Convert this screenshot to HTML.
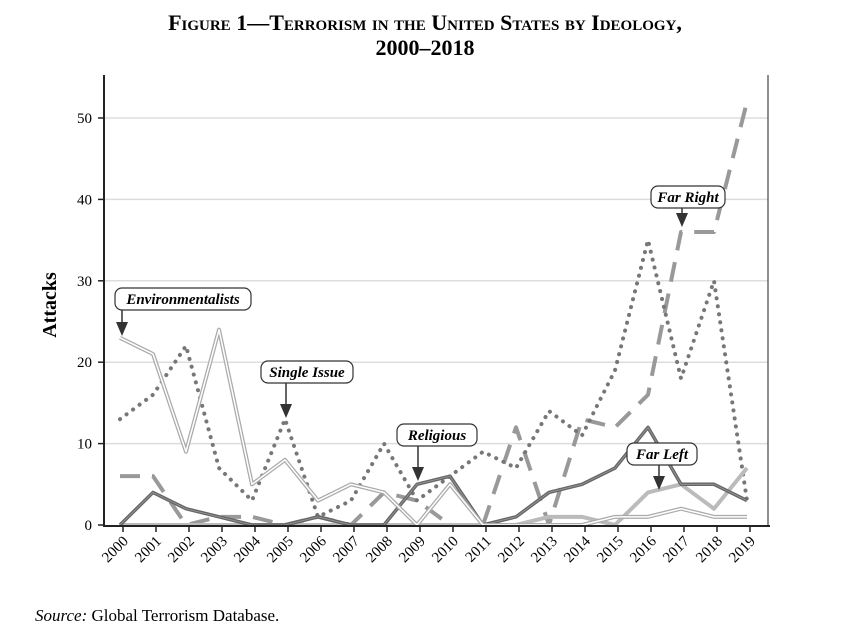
<!DOCTYPE html>
<html><head><meta charset="utf-8"><style>
body{margin:0;background:#fff;width:851px;height:635px;overflow:hidden;font-family:"Liberation Serif",serif}
</style></head><body>
<svg width="851" height="635" xmlns="http://www.w3.org/2000/svg">
<text x="425" y="30" text-anchor="middle" font-family="Liberation Serif" font-weight="bold" font-size="22" font-variant="small-caps">Figure 1—Terrorism in the United States by Ideology,</text>
<text x="425" y="55" text-anchor="middle" font-family="Liberation Serif" font-weight="bold" font-size="22">2000–2018</text>
<text transform="translate(56,305) rotate(-90)" text-anchor="middle" font-family="Liberation Serif" font-weight="bold" font-size="20">Attacks</text>
<g id="grid"></g><g id="series"></g><g id="axes"></g><g id="ann"></g>
<text x="35" y="621" font-family="Liberation Serif" font-size="17"><tspan font-style="italic">Source:</tspan> Global Terrorism Database.</text>
</svg>
<script>
const years=[2000,2001,2002,2003,2004,2005,2006,2007,2008,2009,2010,2011,2012,2013,2014,2015,2016,2017,2018,2019];
const yTicks=[0,10,20,30,40,50];
const environmentalists=[23,21,9,24,5,8,3,5,4,0,5,0,0,0,0,1,1,2,1,1];
const religious=[0,4,2,1,0,0,1,0,0,5,6,0,1,4,5,7,12,5,5,3];
const farLeft=[0,0,0,0,0,0,0,0,0,0,0,0,0,1,1,0,4,5,2,7];
const singleIssue=[13,16,22,7,3,13,1,3,10,3,6,9,7,14,11,19,35,18,30,3];
const farRight=[6,6,0,1,1,0,1,0,4,3,0,0,12,0,13,12,16,36,36,52];
const NS="http://www.w3.org/2000/svg";
const x0=120,dx=33,y0=525,ky=8.14;
const X=i=>x0+i*dx, Y=v=>y0-v*ky;
function mk(t,a,p){const e=document.createElementNS(NS,t);for(const k in a)e.setAttribute(k,a[k]);p.appendChild(e);return e;}
const grid=document.getElementById('grid'),ser=document.getElementById('series'),axes=document.getElementById('axes'),ann=document.getElementById('ann');
yTicks.forEach(v=>{
 if(v>0){const g=mk('line',{x1:104,x2:768,y1:Y(v),y2:Y(v),stroke:'#ddd','stroke-width':1.5},grid);
 
 }
 const t=mk('text',{x:92,y:Y(v)+5,'text-anchor':'end','font-size':15,'font-family':'Liberation Serif'},axes);t.textContent=v;
 
 
 mk('line',{x1:98,x2:104,y1:Y(v),y2:Y(v),stroke:'#222','stroke-width':1.5},axes);
});
const ya=mk('line',{x1:104,x2:104,y1:75,y2:526,stroke:'#222','stroke-width':2},axes);


const rb=mk('line',{x1:768,x2:768,y1:75,y2:526,stroke:'#444','stroke-width':1.2},axes);


const xa=mk('line',{x1:103,x2:770,y1:526,y2:526,stroke:'#222','stroke-width':2},axes);


years.forEach((yr,i)=>{
 mk('line',{x1:X(i)+3,x2:X(i)+3,y1:526,y2:532,stroke:'#222','stroke-width':1.5},axes);
 const t=mk('text',{transform:`translate(${X(i)+9},542) rotate(-45)`,'text-anchor':'end','font-size':15,'font-family':'Liberation Serif'},axes);t.textContent=yr;
 
 
});
function pts(a){return a.map((v,i)=>X(i)+','+Y(v)).join(' ');}
function line(arr,attrs,name){const e=mk('polyline',Object.assign({points:pts(arr),fill:'none','stroke-linejoin':'round'},attrs),ser);
 
 }
line(farRight,{stroke:'#999','stroke-width':4,'stroke-dasharray':'20,12'},'series-far-right');
line(singleIssue,{stroke:'#777','stroke-width':4,'stroke-dasharray':'0.1,8','stroke-linecap':'round'},'series-single-issue');
line(farLeft,{stroke:'#bbb','stroke-width':4},'series-far-left');
line(religious,{stroke:'#666','stroke-width':3.5},'series-religious');
line(religious,{stroke:'#999','stroke-width':0.8},'series-religious-inner');
line(environmentalists,{stroke:'#aaa','stroke-width':4},'series-environmentalists');
line(environmentalists,{stroke:'#fff','stroke-width':1.5},'series-environmentalists-inner');
function label(txt,cx,cy,w,ax,ay,name){
 const g=mk('g',{},ann);
 
 
 mk('line',{x1:ax,x2:ax,y1:cy+11,y2:ay-12,stroke:'#333','stroke-width':1.5},g);
 mk('polygon',{points:`${ax-6},${ay-14} ${ax+6},${ay-14} ${ax},${ay}`,fill:'#333'},g);
 mk('rect',{x:cx-w/2,y:cy-11,width:w,height:22,rx:7,fill:'#fff',stroke:'#333','stroke-width':1.2},g);
 const t=mk('text',{x:cx,y:cy+5,'text-anchor':'middle','font-size':15,'font-style':'italic','font-weight':'bold','font-family':'Liberation Serif'},g);t.textContent=txt;
}
label('Environmentalists',183,299,136,122,336,'label-environmentalists');
label('Single Issue',307,372,92,286,418,'label-single-issue');
label('Religious',437,435,80,418,481,'label-religious');
label('Far Left',662,454,70,659,490,'label-far-left');
label('Far Right',688,197,74,682,227,'label-far-right');
</script>
</body></html>
